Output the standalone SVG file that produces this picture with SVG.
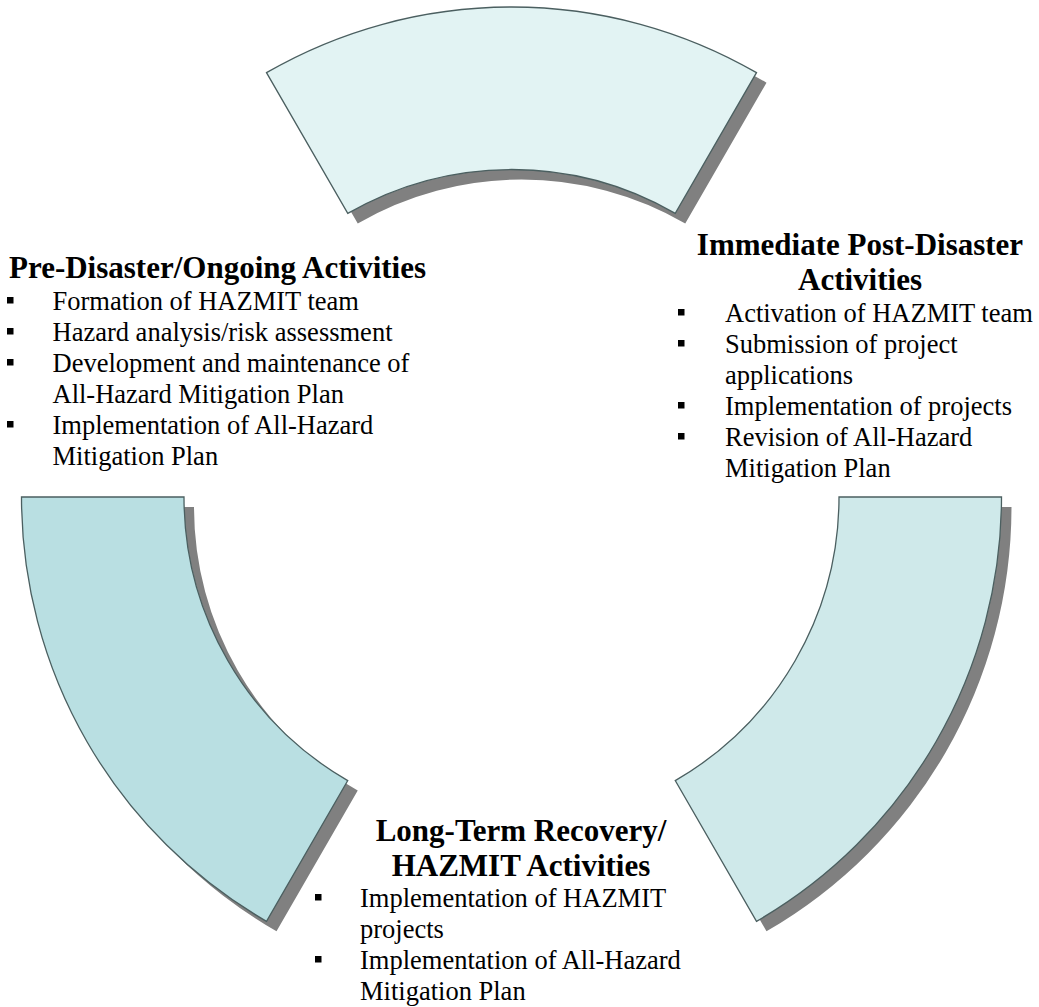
<svg xmlns="http://www.w3.org/2000/svg" width="1039" height="1007" viewBox="0 0 1039 1007">
  <style>
    .arc { stroke: #4B5F60; stroke-width: 1.3; stroke-linejoin: miter; }
    .shadow { fill: #808080; stroke: none; }
    .title { font-family: "Liberation Serif", "Times New Roman", serif; font-weight: bold; font-size: 31px; fill: #000; }
    .body { font-family: "Liberation Serif", "Times New Roman", serif; font-size: 26.5px; fill: #000; }
    .bullet { fill: #000; }
  </style>
  <defs>
    <path id="p-top" d="M 266.5,72.65 A 490 490 0 0 1 756.5,72.65 L 675.25,213.4 A 327.5 327.5 0 0 0 347.75,213.4 Z"/>
    <path id="p-left" d="M 21.5,497 L 184,497 A 327.5 327.5 0 0 0 347.75,780.6 L 266.5,921.35 A 490 490 0 0 1 21.5,497 Z"/>
    <path id="p-right" d="M 839,497 L 1001.5,497 A 490 490 0 0 1 756.5,921.35 L 675.25,780.6 A 327.5 327.5 0 0 0 839,497 Z"/>
  </defs>

  <g id="arc-top">
    <use href="#p-top" class="shadow" transform="translate(10,10)"/>
    <use href="#p-top" class="arc" fill="#E2F3F3"/>
  </g>
  <g id="arc-left">
    <use href="#p-left" class="shadow" transform="translate(10,10)"/>
    <use href="#p-left" class="arc" fill="#B9DFE2"/>
  </g>
  <g id="arc-right">
    <use href="#p-right" class="shadow" transform="translate(10,10)"/>
    <use href="#p-right" class="arc" fill="#CFE9EA"/>
  </g>

  <g id="connectors"></g>

  <g id="pre-disaster">
    <text class="title" x="9" y="278">Pre-Disaster/Ongoing Activities</text>
    <rect class="bullet" x="7" y="297" width="6.5" height="6.5"/>
    <text class="body" x="52.5" y="310">Formation of HAZMIT team</text>
    <rect class="bullet" x="7" y="328" width="6.5" height="6.5"/>
    <text class="body" x="52.5" y="341">Hazard analysis/risk assessment</text>
    <rect class="bullet" x="7" y="359" width="6.5" height="6.5"/>
    <text class="body" x="52.5" y="372">Development and maintenance of</text>
    <text class="body" x="52.5" y="403">All-Hazard Mitigation Plan</text>
    <rect class="bullet" x="7" y="421" width="6.5" height="6.5"/>
    <text class="body" x="52.5" y="434">Implementation of All-Hazard</text>
    <text class="body" x="52.5" y="465">Mitigation Plan</text>
  </g>

  <g id="post-disaster">
    <text class="title" x="860" y="255" text-anchor="middle">Immediate Post-Disaster</text>
    <text class="title" x="860" y="290" text-anchor="middle">Activities</text>
    <rect class="bullet" x="678" y="309" width="6.5" height="6.5"/>
    <text class="body" x="725" y="322">Activation of HAZMIT team</text>
    <rect class="bullet" x="678" y="340" width="6.5" height="6.5"/>
    <text class="body" x="725" y="353">Submission of project</text>
    <text class="body" x="725" y="384">applications</text>
    <rect class="bullet" x="678" y="402" width="6.5" height="6.5"/>
    <text class="body" x="725" y="415">Implementation of projects</text>
    <rect class="bullet" x="678" y="433" width="6.5" height="6.5"/>
    <text class="body" x="725" y="446">Revision of All-Hazard</text>
    <text class="body" x="725" y="477">Mitigation Plan</text>
  </g>

  <g id="long-term">
    <text class="title" x="521" y="841" text-anchor="middle">Long-Term Recovery/</text>
    <text class="title" x="521" y="876" text-anchor="middle">HAZMIT Activities</text>
    <rect class="bullet" x="315" y="894" width="6.5" height="6.5"/>
    <text class="body" x="360" y="907">Implementation of HAZMIT</text>
    <text class="body" x="360" y="938">projects</text>
    <rect class="bullet" x="315" y="956" width="6.5" height="6.5"/>
    <text class="body" x="360" y="969">Implementation of All-Hazard</text>
    <text class="body" x="360" y="1000">Mitigation Plan</text>
  </g>
</svg>
